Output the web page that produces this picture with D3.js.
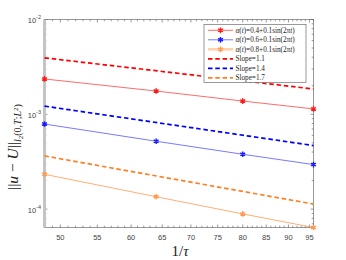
<!DOCTYPE html>
<html>
<head>
<meta charset="utf-8">
<script src="https://cdn.jsdelivr.net/npm/d3@7"></script>
<style>
  body { margin: 0; background: #fff; }
  svg { display: block; }
</style>
</head>
<body>
<div id="chart"></div>
<script>
// data
const invTau = [48, 64, 80, 96];
const err04 = [2.36e-3, 1.76e-3, 1.38e-3, 1.14e-3];
const err06 = [7.9e-4, 5.2e-4, 3.79e-4, 2.95e-4];
const err08 = [2.33e-4, 1.35e-4, 8.9e-5, 6.4e-5];
const refX = [48, 96];
const slope11 = [3.94e-3, 1.85e-3];
const slope14 = [1.22e-3, 4.68e-4];
const slope17 = [3.64e-4, 1.13e-4];
const xTicks = [50, 55, 60, 65, 70, 75, 80, 85, 90, 95];
const yTicks = [1e-4, 1e-3, 1e-2];
const yExp = ["-4", "-3", "-2"];

const W = 346, H = 260;
const pLeft = 44.5, pRight = 313.5, pTop = 19.5, pBottom = 227.5;

const svg = d3.select("#chart").append("svg")
    .attr("width", W).attr("height", H);

const x = d3.scaleLog().domain([48, 96]).range([pLeft, pRight]);
const y = d3.scaleLog().domain([6.4e-5, 1e-2]).range([pBottom, pTop]);

// minor ticks
const xMinor = d3.range(48, 97);
const yMinor = [];
[1e-5, 1e-4, 1e-3].forEach(d => { for (let k = 1; k < 10; k++) yMinor.push(d * k); });
yMinor.push(1e-2);
const yMinorIn = yMinor.filter(v => v >= 6.4e-5 && v <= 1e-2);

const tk = svg.append("g").attr("stroke", "#555").attr("stroke-width", 0.6);
xMinor.forEach(v => {
  const len = xTicks.includes(v) ? 3 : 1.8;
  tk.append("line").attr("x1", x(v)).attr("x2", x(v)).attr("y1", pBottom).attr("y2", pBottom - len);
  tk.append("line").attr("x1", x(v)).attr("x2", x(v)).attr("y1", pTop).attr("y2", pTop + len);
});
yMinorIn.forEach(v => {
  const len = yTicks.some(t => Math.abs(t - v) < v * 1e-6) ? 3 : 1.8;
  tk.append("line").attr("x1", pLeft).attr("x2", pLeft + len).attr("y1", y(v)).attr("y2", y(v));
  tk.append("line").attr("x1", pRight).attr("x2", pRight - len).attr("y1", y(v)).attr("y2", y(v));
});

// box
svg.append("rect").attr("x", pLeft).attr("y", pTop)
    .attr("width", pRight - pLeft).attr("height", pBottom - pTop)
    .attr("fill", "none").attr("stroke", "#555").attr("stroke-width", 0.6);
svg.append("line").attr("x1", pLeft).attr("x2", pLeft).attr("y1", pTop).attr("y2", pBottom)
    .attr("stroke", "#c4c4c4").attr("stroke-width", 3);

// tick labels
svg.append("g").selectAll("text").data(xTicks).join("text")
    .attr("x", d => x(d)).attr("y", 240)
    .attr("text-anchor", "middle")
    .attr("font-family", "Liberation Sans, Arial, sans-serif")
    .attr("font-size", 7.5).attr("fill", "#444")
    .text(d => d);

const yl = svg.append("g").selectAll("text").data(yTicks).join("text")
    .attr("x", 41).attr("y", d => y(d) + 3.5)
    .attr("text-anchor", "end")
    .attr("font-family", "Liberation Sans, Arial, sans-serif")
    .attr("font-size", 7.5).attr("fill", "#444");
yl.append("tspan").text("10");
yl.append("tspan").attr("dy", -4).attr("font-size", 5.5).text((d, i) => yExp[i]);

// lines
const line = d3.line().x(d => x(d[0])).y(d => y(d[1]));
const plot = svg.append("g");

const refs = [
  { v: slope11, c: "#ff0000" },
  { v: slope14, c: "#0000ff" },
  { v: slope17, c: "#ff7f24" }
];
refs.forEach(r => {
  plot.append("path").datum(refX.map((d, i) => [d, r.v[i]]))
      .attr("d", line).attr("fill", "none")
      .attr("stroke", r.c).attr("stroke-width", 1.7)
      .attr("stroke-dasharray", "4.5,2.8");
});

const sols = [
  { v: err04, c: "#ff5a5a", m: "#ff1a1a" },
  { v: err06, c: "#6a6aff", m: "#1a1aff" },
  { v: err08, c: "#ffa566", m: "#ff9a50" }
];
const star = d3.symbol().type(d3.symbolAsterisk).size(22);
sols.forEach(s => {
  const pts = invTau.map((d, i) => [d, s.v[i]]);
  plot.append("path").datum(pts)
      .attr("d", line).attr("fill", "none")
      .attr("stroke", s.c).attr("stroke-width", 0.9);
  plot.selectAll(null).data(pts).join("path")
      .attr("transform", d => `translate(${x(d[0])},${y(d[1])})`)
      .attr("d", star).attr("fill", "none")
      .attr("stroke", s.m).attr("stroke-width", 1.4);
});

// legend
const lg = svg.append("g");
lg.append("rect").attr("x", 204).attr("y", 24.5).attr("width", 102).attr("height", 58)
    .attr("fill", "#fff").attr("stroke", "#555").attr("stroke-width", 0.6);
const legendRows = [
  { a: "0.4", c: "#ff5a5a", m: "#ff1a1a", w: 0.9 },
  { a: "0.6", c: "#6a6aff", m: "#1a1aff", w: 0.9 },
  { a: "0.8", c: "#ffcfa8", m: "#ff9a50", w: 2.5 }
];
const slopeRows = [
  { s: "1.1", c: "#ff0000" },
  { s: "1.4", c: "#0000ff" },
  { s: "1.7", c: "#ff7f24" }
];
const rowY = [30.3, 39.8, 49.3, 58.8, 68.3, 77.8];
const serif = "Liberation Serif, Times New Roman, serif";
legendRows.forEach((r, i) => {
  const yy = rowY[i];
  lg.append("line").attr("x1", 208).attr("x2", 233).attr("y1", yy).attr("y2", yy)
      .attr("stroke", r.c).attr("stroke-width", r.w);
  lg.append("path").attr("transform", `translate(220.5,${yy})`).attr("d", star)
      .attr("fill", "none").attr("stroke", r.m).attr("stroke-width", 1.4);
  const t = lg.append("text").attr("x", 235.5).attr("y", yy + 2.4)
      .attr("font-family", serif).attr("font-size", 7.2).attr("fill", "#222");
  t.append("tspan").attr("font-style", "italic").text("α");
  t.append("tspan").text("(");
  t.append("tspan").attr("font-style", "italic").text("t");
  t.append("tspan").text(")=" + r.a + "+0.1sin(2");
  t.append("tspan").attr("font-style", "italic").text("πt");
  t.append("tspan").text(")");
});
slopeRows.forEach((r, i) => {
  const yy = rowY[i + 3];
  lg.append("line").attr("x1", 208).attr("x2", 233).attr("y1", yy).attr("y2", yy)
      .attr("stroke", r.c).attr("stroke-width", 1.7).attr("stroke-dasharray", "4.5,2.8");
  lg.append("text").attr("x", 235.5).attr("y", yy + 2.4)
      .attr("font-family", serif).attr("font-size", 7.2).attr("fill", "#222")
      .text("Slope=" + r.s);
});

// axis titles
const xt = svg.append("text").attr("x", 180).attr("y", 256)
    .attr("text-anchor", "middle").attr("font-family", serif)
    .attr("font-size", 15).attr("fill", "#222");
xt.append("tspan").text("1/");
xt.append("tspan").attr("font-style", "italic").text("τ");

const yt = svg.append("text")
    .attr("transform", "translate(18,147) rotate(-90)")
    .attr("text-anchor", "middle").attr("font-family", serif)
    .attr("font-size", 15.5).attr("fill", "#222");
yt.append("tspan").text("||");
yt.append("tspan").attr("font-style", "italic").text("u");
yt.append("tspan").text(" − ");
yt.append("tspan").attr("font-style", "italic").text("U");
yt.append("tspan").text("||");
yt.append("tspan").attr("dy", 3).attr("font-size", 10).attr("font-style", "italic").text("l");
yt.append("tspan").attr("dy", 2).attr("font-size", 7).text("2");
yt.append("tspan").attr("dy", -2).attr("font-size", 10).text("(0,");
yt.append("tspan").attr("font-size", 10).attr("font-style", "italic").text("T");
yt.append("tspan").attr("font-size", 10).text(";");
yt.append("tspan").attr("font-size", 10).attr("font-style", "italic").text("L");
yt.append("tspan").attr("dy", -3).attr("font-size", 7).text("2");
yt.append("tspan").attr("dy", 3).attr("font-size", 10).text(")");
</script>
</body>
</html>
